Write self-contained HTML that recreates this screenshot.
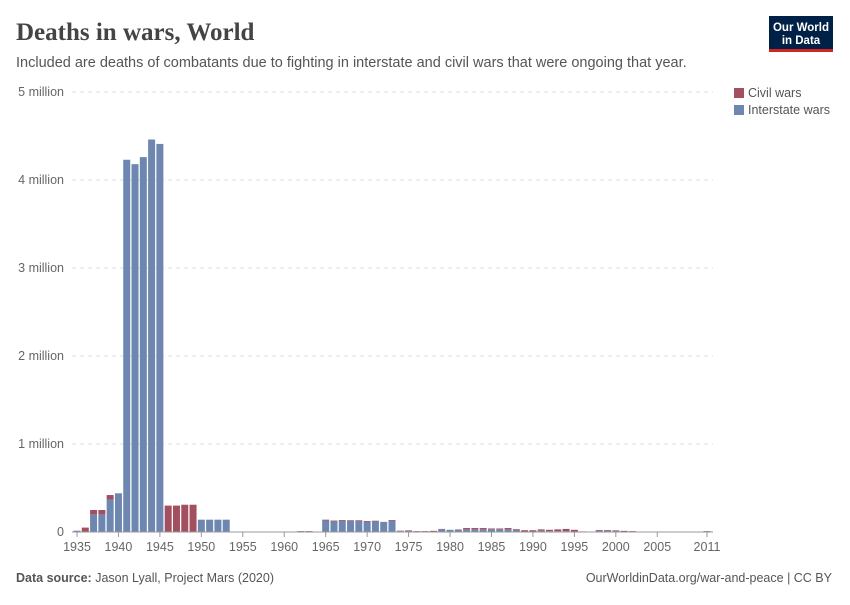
<!DOCTYPE html>
<html><head><meta charset="utf-8"><style>
body{margin:0;background:#fff;font-family:"Liberation Sans",sans-serif}
#c{position:relative;width:850px;height:600px}
</style></head><body>
<div id="c">
<svg width="850" height="600">
<text x="16" y="40" font-family="Liberation Serif,serif" font-size="25" font-weight="bold" fill="#444">Deaths in wars, World</text>
<text x="16" y="67" font-size="14.5" fill="#555">Included are deaths of combatants due to fighting in interstate and civil wars that were ongoing that year.</text>
<g><rect x="769" y="16" width="64" height="35" fill="#002147"/><rect x="769" y="49" width="64" height="3" fill="#ce261e"/>
<text x="801" y="31" font-size="11.5" fill="#fff" text-anchor="middle" font-weight="bold">Our World</text><text x="801" y="44" font-size="11.5" fill="#fff" text-anchor="middle" font-weight="bold">in Data</text></g>
<g id="grid"></g><g id="bars"></g><g id="xax"></g>
<g>
<rect x="734" y="88" width="10" height="10" fill="#a2505f"/><text x="748" y="97" font-size="12.5" fill="#555">Civil wars</text>
<rect x="734" y="105" width="10" height="10" fill="#6d87b0"/><text x="748" y="114" font-size="12.5" fill="#555">Interstate wars</text></g>
<text x="16" y="582" font-size="12.5" fill="#555"><tspan font-weight="bold">Data source:</tspan> Jason Lyall, Project Mars (2020)</text>
<text x="832" y="582" font-size="12.5" fill="#555" text-anchor="end">OurWorldinData.org/war-and-peace | CC BY</text>
</svg></div>
<script>
const years=[];for(let y=1935;y<=2011;y++)years.push(y);
const interstate=[15,0,200,200,370,440,4230,4180,4260,4460,4410,0,0,0,0,140,140,140,140,2,2,2,2,2,2,2,0,0,0,0,130,120,125,125,125,115,120,115,125,10,15,5,5,5,30,25,25,30,30,30,30,30,30,25,5,5,15,10,10,10,5,2,0,15,15,15,5,5,3,2,0,0,0,0,0,0,0];
const civil=[0,50,50,50,50,0,0,0,0,0,0,300,300,310,310,0,0,0,0,0,0,0,0,0,0,0,0,10,10,5,10,10,10,8,8,10,8,0,10,5,5,5,5,8,5,0,5,15,15,15,10,10,15,8,15,15,15,15,20,25,20,5,5,8,8,5,8,5,0,0,2,2,2,2,5,5,10];
const yTicks=[0,1,2,3,4,5];const yLabels=["0","1 million","2 million","3 million","4 million","5 million"];
const xTicks=[1935,1940,1945,1950,1955,1960,1965,1970,1975,1980,1985,1990,1995,2000,2005,2011];
const NS="http://www.w3.org/2000/svg";
const x0=77,x1=707,y0=532,pxPerM=88;
const xs=y=>x0+(y-1935)*(x1-x0)/(2011-1935);
const ys=v=>y0-v/1000*pxPerM;
function mk(t,a,p){const e=document.createElementNS(NS,t);for(const k in a)e.setAttribute(k,a[k]);p.appendChild(e);return e;}
const g=document.getElementById('grid');
yTicks.forEach((v,i)=>{const y=ys(v*1000);
 if(v>0){const l=mk('line',{x1:72,x2:713,y1:y,y2:y,stroke:'#ddd','stroke-dasharray':'4,4'},g);
 
 }
 const t=mk('text',{x:64,y:y+4,'font-size':12.5,fill:'#666','text-anchor':'end'},g);t.textContent=yLabels[i];
 
 });
const b=document.getElementById('bars');const bw=7;
years.forEach((yr,i)=>{const x=xs(yr)-bw/2;
 const hi=interstate[i]/1000*pxPerM, hc=civil[i]/1000*pxPerM;
 if(hi>0){const r=mk('rect',{x:x,y:y0-hi,width:bw,height:hi,fill:'#6d87b0'},b);
 
 }
 if(hc>0){const r=mk('rect',{x:x,y:y0-hi-hc,width:bw,height:hc,fill:'#a2505f'},b);
 
 }});
const xa=document.getElementById('xax');
const ax=mk('line',{x1:72,x2:713,y1:y0,y2:y0,stroke:'#999'},xa);


xTicks.forEach(yr=>{const x=xs(yr);mk('line',{x1:x,x2:x,y1:y0,y2:y0+5,stroke:'#999'},xa);
 const t=mk('text',{x:x,y:551,'font-size':12.5,fill:'#666','text-anchor':'middle'},xa);t.textContent=yr;
 
 });
</script></body></html>
